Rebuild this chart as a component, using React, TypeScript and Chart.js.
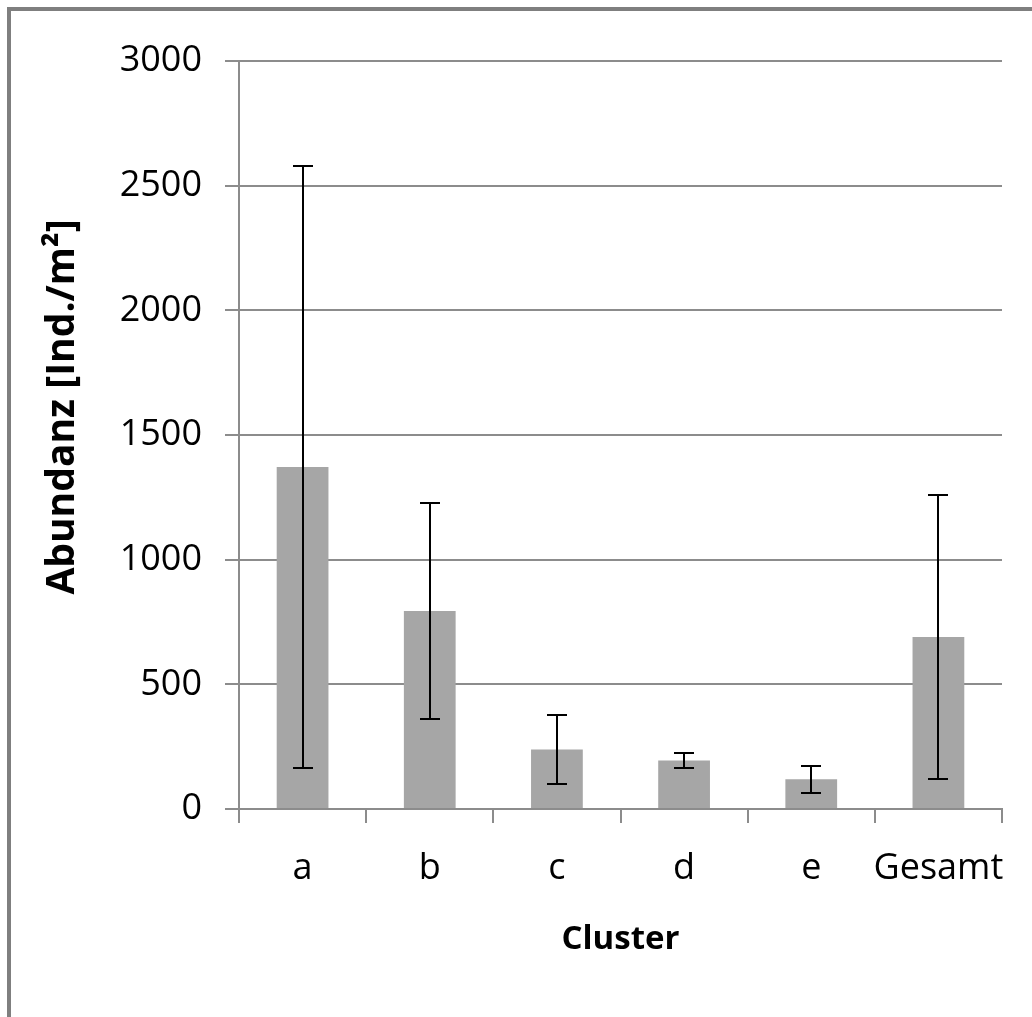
import React, { useEffect, useRef } from "react";
import { Chart, registerables } from "chart.js";

Chart.register(...registerables);

const categories = ["a", "b", "c", "d", "e", "Gesamt"];
const means = [1372, 794, 239, 195, 119, 690];
const errors = [1206, 433, 137, 31, 53, 570];
const yTicks = [0, 500, 1000, 1500, 2000, 2500, 3000];
const xTitle = "Cluster";
const yTitle = "Abundanz [Ind./m²]";

const FONT = "'Open Sans', 'Noto Sans', sans-serif";
const GRID = "#8c8c8c";

const errorBarPlugin = {
  id: "errorBars",
  afterDatasetsDraw(chart: any) {
    const { ctx, scales } = chart;
    const x = scales.x;
    const y = scales.y;
    ctx.save();
    ctx.strokeStyle = "#000";
    ctx.lineWidth = 2;
    categories.forEach((_c, i) => {
      const px = Math.round(x.getPixelForValue(i));
      const top = Math.round(y.getPixelForValue(means[i] + errors[i]));
      const bot = Math.round(y.getPixelForValue(means[i] - errors[i]));
      ctx.beginPath();
      ctx.moveTo(px, top);
      ctx.lineTo(px, bot);
      ctx.moveTo(px - 10, top);
      ctx.lineTo(px + 10, top);
      ctx.moveTo(px - 10, bot);
      ctx.lineTo(px + 10, bot);
      ctx.stroke();
    });
    ctx.restore();
  },
};

const yTitlePlugin = {
  id: "yTitle",
  afterDraw(chart: any) {
    const { ctx } = chart;
    ctx.save();
    ctx.translate(63, 407);
    ctx.rotate(-Math.PI / 2);
    ctx.font = `bold 39px ${FONT}`;
    ctx.fillStyle = "#000";
    ctx.textAlign = "center";
    ctx.textBaseline = "middle";
    ctx.fillText(yTitle, 0, 0);
    ctx.restore();
  },
};

export default function App() {
  const ref = useRef<HTMLCanvasElement>(null);

  useEffect(() => {
    if (!ref.current) return;
    const chart = new Chart(ref.current, {
      type: "bar",
      data: {
        labels: categories,
        datasets: [
          {
            data: means,
            backgroundColor: "#a6a6a6",
            borderWidth: 0,
            barPercentage: 0.407,
            categoryPercentage: 1,
          },
        ],
      },
      options: {
        responsive: false,
        animation: false,
        events: [],
        layout: { padding: { left: 0, top: 61, right: 30, bottom: 0 } },
        plugins: {
          legend: { display: false },
          tooltip: { enabled: false },
          title: { display: false },
        },
        scales: {
          x: {
            type: "category",
            offset: true,
            grid: {
              display: true,
              offset: true,
              drawOnChartArea: false,
              drawTicks: true,
              tickLength: 14,
              color: GRID,
              lineWidth: 2,
            },
            border: { display: true, color: GRID, width: 2 },
            ticks: {
              color: "#000",
              font: { family: FONT, size: 36 },
              padding: 24,
              maxRotation: 0,
              autoSkip: false,
            },
            title: {
              display: true,
              text: xTitle,
              color: "#000",
              font: { family: FONT, size: 33, weight: "bold" },
              padding: { top: 0, bottom: 58 },
            },
            afterFit: (s: any) => {
              s.height = 208;
            },
          },
          y: {
            min: 0,
            max: 3000,
            grid: {
              color: GRID,
              lineWidth: 2,
              drawTicks: true,
              tickLength: 14,
            },
            border: { display: true, color: GRID, width: 2 },
            ticks: {
              color: "#000",
              font: { family: FONT, size: 36 },
              padding: 23,
              callback: (v: any) => String(v),
            },
            afterBuildTicks: (s: any) => {
              s.ticks = yTicks.map((v) => ({ value: v }));
            },
            afterFit: (s: any) => {
              s.width = 239;
            },
          },
        },
      },
      plugins: [errorBarPlugin, yTitlePlugin],
    });
    return () => chart.destroy();
  }, []);

  return (
    <>
      <div
        style={{
          position: "fixed",
          left: 7,
          top: 7,
          right: 0,
          bottom: 0,
          borderTop: "4px solid #7f7f7f",
          borderLeft: "4px solid #7f7f7f",
          background: "#fff",
        }}
      />
      <canvas
        ref={ref}
        width={1032}
        height={1017}
        style={{ position: "fixed", left: 0, top: 0, width: 1032, height: 1017 }}
      />
    </>
  );
}
